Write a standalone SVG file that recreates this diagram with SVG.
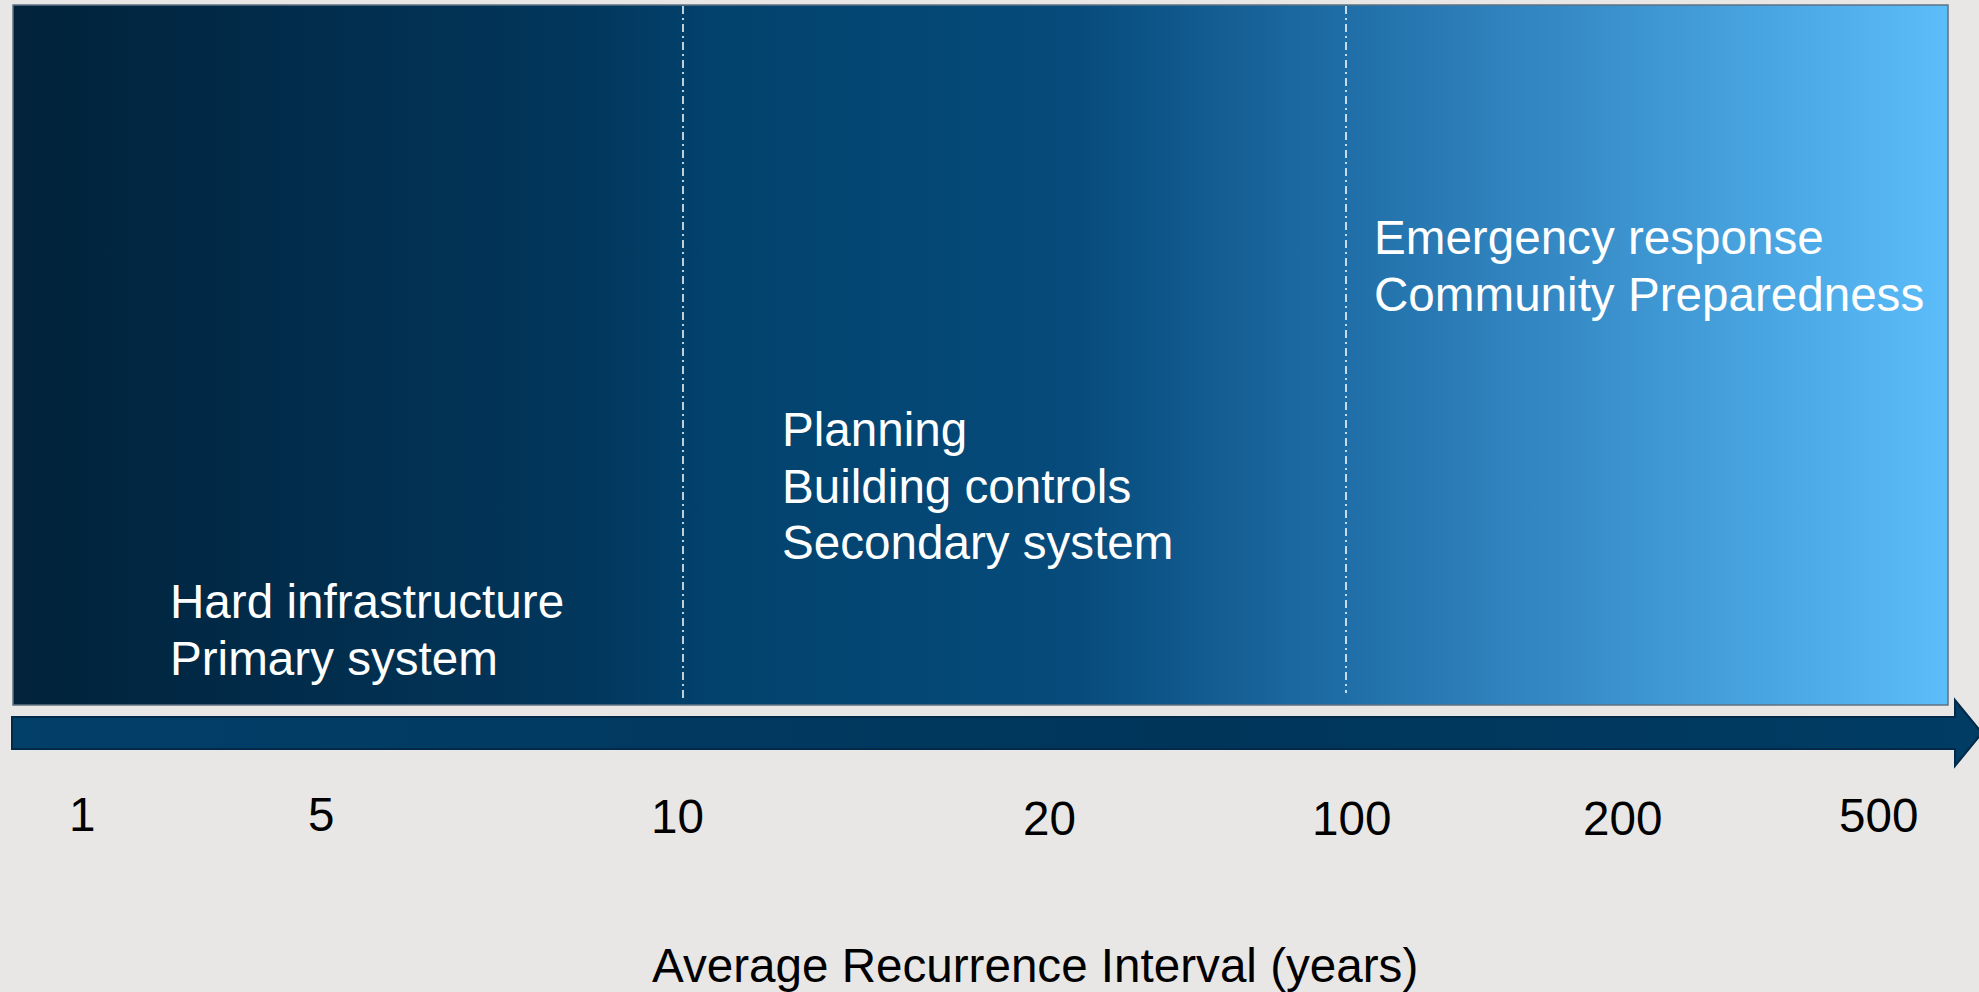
<svg xmlns="http://www.w3.org/2000/svg" width="1979" height="992" viewBox="0 0 1979 992">
<defs>
<linearGradient id="bg" x1="0" y1="0" x2="1" y2="0">
<stop offset="0" stop-color="#01223a"/>
<stop offset="0.3" stop-color="#02375d"/>
<stop offset="0.36" stop-color="#02426d"/>
<stop offset="0.55" stop-color="#064b7b"/>
<stop offset="0.69" stop-color="#206ea8"/>
<stop offset="1" stop-color="#5bbdfa"/>
</linearGradient>
<linearGradient id="arr" x1="0" y1="0" x2="1" y2="0">
<stop offset="0" stop-color="#023f69"/>
<stop offset="0.6" stop-color="#00355a"/>
<stop offset="1" stop-color="#003c64"/>
</linearGradient>
<style>
.lbl{font-family:"Liberation Sans",Arial,sans-serif;font-size:47.6px;fill:#ffffff}
.num{font-family:"Liberation Sans",Arial,sans-serif;font-size:47.6px;fill:#000000}
.sep{stroke:#ffffff;stroke-width:1.5;stroke-dasharray:8 4 2 4;fill:none}
</style>
</defs>
<rect x="0" y="0" width="1979" height="992" fill="#e8e7e5"/>
<g id="panel">
<rect x="13" y="5" width="1935" height="700" fill="url(#bg)" stroke="#5f7282" stroke-width="1.5"/>
</g>
<g id="connectors">
<line class="sep" x1="683" y1="6" x2="683" y2="700"/>
<line class="sep" x1="1346" y1="6" x2="1346" y2="693"/>
<path d="M12,717 L1955,717 L1955,700 L1982,733 L1955,766 L1955,749 L12,749 Z" fill="url(#arr)" stroke="#01294a" stroke-width="2"/>
</g>
<g id="zone1">
<text class="lbl" x="170" y="618">Hard infrastructure</text>
<text class="lbl" x="170" y="675">Primary system</text>
</g>
<g id="zone2">
<text class="lbl" x="782" y="446">Planning</text>
<text class="lbl" x="782" y="503">Building controls</text>
<text class="lbl" x="782" y="559">Secondary system</text>
</g>
<g id="zone3">
<text class="lbl" x="1374" y="254">Emergency response</text>
<text class="lbl" x="1374" y="311">Community Preparedness</text>
</g>
<g id="axis">
<text class="num" x="69" y="831">1</text>
<text class="num" x="308" y="831">5</text>
<text class="num" x="651" y="833">10</text>
<text class="num" x="1023" y="835">20</text>
<text class="num" x="1312" y="835">100</text>
<text class="num" x="1583" y="835">200</text>
<text class="num" x="1839" y="832">500</text>
<text class="num" x="652" y="982">Average Recurrence Interval (years)</text>
</g>
</svg>
